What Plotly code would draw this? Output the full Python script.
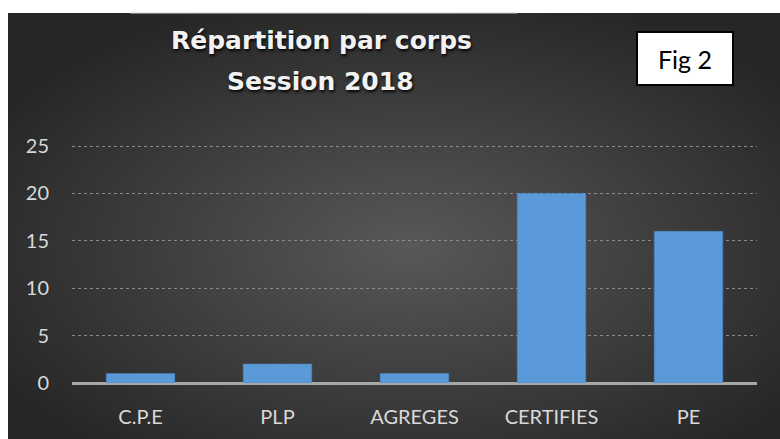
import base64
import plotly.graph_objects as go

categories = ["C.P.E", "PLP", "AGREGES", "CERTIFIES", "PE"]
values = [1, 2, 1, 20, 16]
y_ticks = [0, 5, 10, 15, 20, 25]
title_lines = ["Répartition par corps", "Session 2018"]
fig_label = "Fig 2"

W, H = 780, 439
L, R, T, B = 72, 757, 142, 383  # plot area in pixels
UNIT = (383 - 146) / 25.0       # pixels per unit (0 at 383, 25 at 146)
Y_TOP = (B - T) / UNIT


def px(x):
    return (x - L) / (R - L)


def py(y):
    return (B - y) / (B - T)


svg = (
    "<svg xmlns='http://www.w3.org/2000/svg' width='772' height='426' preserveAspectRatio='none'>"
    "<defs><radialGradient id='g' cx='52%' cy='55%' r='62%'>"
    "<stop offset='0' stop-color='#585858'/><stop offset='1' stop-color='#262626'/>"
    "</radialGradient></defs><rect width='100%' height='100%' fill='url(#g)'/></svg>"
)
src = "data:image/svg+xml;base64," + base64.b64encode(svg.encode()).decode()

fig = go.Figure(
    go.Bar(
        x=categories,
        y=values,
        marker=dict(color="#5a9ad8", line=dict(color="#4a88c8", width=0.5)),
        width=0.5,
        hoverinfo="x+y",
    )
)

title_font = dict(family="DejaVu Sans", size=25, color="#f2f2f2",
                  shadow="1px 2px 3px rgba(0,0,0,0.9)")

fig.update_layout(
    width=W,
    height=H,
    margin=dict(l=L, r=W - R, t=T, b=H - B),
    paper_bgcolor="white",
    plot_bgcolor="rgba(0,0,0,0)",
    showlegend=False,
    font=dict(family="Lato", color="#d9d9d9", size=20),
    images=[
        dict(
            source=src,
            xref="paper",
            yref="paper",
            x=px(8),
            y=py(13),
            sizex=px(780) - px(8),
            sizey=py(13) - py(439),
            sizing="stretch",
            layer="below",
            xanchor="left",
            yanchor="top",
        )
    ],
    shapes=[
        dict(type="line", xref="paper", yref="paper", x0=px(130), x1=px(517),
             y0=py(13), y1=py(13), line=dict(color="#cfcfcf", width=1)),
        dict(type="rect", xref="paper", yref="paper", x0=px(637), x1=px(733),
             y0=py(85), y1=py(32), fillcolor="white", line=dict(color="black", width=2)),
    ],
    annotations=[
        dict(
            text="<b>" + title_lines[0] + "</b>",
            xref="paper", yref="paper", x=px(321), y=py(41),
            xanchor="center", yanchor="middle", showarrow=False,
            font=title_font,
        ),
        dict(
            text="<b>" + title_lines[1] + "</b>",
            xref="paper", yref="paper", x=px(320), y=py(81),
            xanchor="center", yanchor="middle", showarrow=False,
            font=title_font,
        ),
        dict(
            text=fig_label, xref="paper", yref="paper", x=px(685), y=py(59),
            xanchor="center", yanchor="middle", showarrow=False,
            font=dict(family="Lato", size=25, color="black"),
        ),
    ],
    xaxis=dict(
        showgrid=False, showline=False, ticks="",
        ticklabelstandoff=20, tickfont=dict(size=20, color="#d9d9d9"),
        fixedrange=True,
    ),
    yaxis=dict(
        range=[0, Y_TOP], tickvals=y_ticks, showgrid=True,
        gridcolor="#8a8a8a", griddash="dot", gridwidth=1,
        zeroline=True, zerolinecolor="#a8a8a8", zerolinewidth=3,
        showline=False, ticks="", ticklabelstandoff=22,
        tickfont=dict(size=20, color="#d9d9d9"), fixedrange=True,
    ),
)

fig.write_html("out.html", config={"displayModeBar": False},
               post_script="document.body.style.margin='0';")
